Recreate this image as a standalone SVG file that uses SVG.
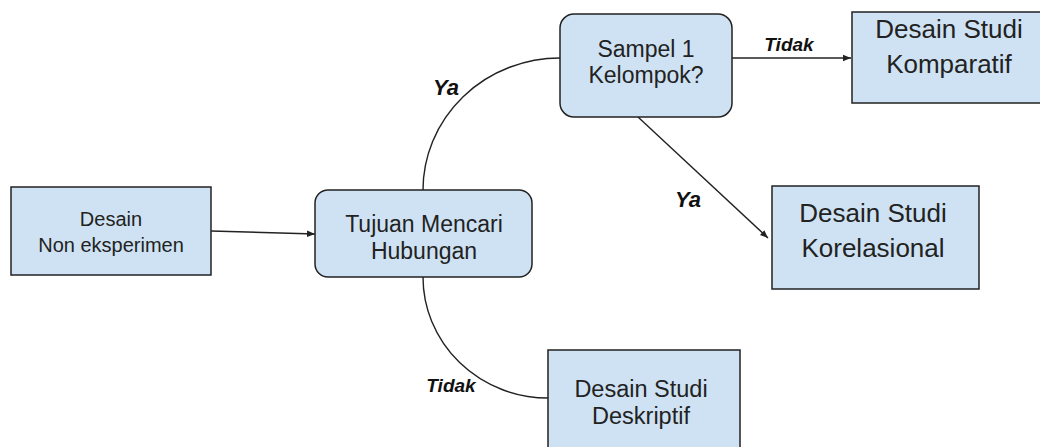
<svg xmlns="http://www.w3.org/2000/svg" width="1040" height="447" viewBox="0 0 1040 447">
<style>
.box{fill:#cfe2f3;stroke:#222;stroke-width:1.5}
.t{font-family:"Liberation Sans",Arial,sans-serif;fill:#222;text-anchor:middle}
.lbl{font-family:"Liberation Sans",Arial,sans-serif;fill:#111;font-weight:bold;font-style:italic;text-anchor:middle}
.c{fill:none;stroke:#222;stroke-width:1.4}
</style>
<defs>
<marker id="ah" viewBox="0 0 10 10" refX="10" refY="5" markerWidth="8" markerHeight="8" markerUnits="userSpaceOnUse" orient="auto">
<path d="M0,1 L10,5 L0,9 Z" fill="#222"/>
</marker>
</defs>
<rect width="1040" height="447" fill="#fff"/>
<g id="connectors">
<line class="c" x1="211" y1="231" x2="315" y2="234" marker-end="url(#ah)"/>
<path class="c" d="M423,190 A137,132 0 0 1 560,58"/>
<path class="c" d="M423,277 A125,121 0 0 0 548,398"/>
<line class="c" x1="732" y1="58" x2="851" y2="58" marker-end="url(#ah)"/>
<line class="c" x1="638" y1="117" x2="768" y2="238" marker-end="url(#ah)"/>
<text class="lbl" x="446" y="95" font-size="22">Ya</text>
<text class="lbl" x="789" y="51" font-size="19">Tidak</text>
<text class="lbl" x="688" y="207" font-size="22">Ya</text>
<text class="lbl" x="451" y="392" font-size="19">Tidak</text>
</g>
<g id="n1">
<rect class="box" x="11" y="187" width="200" height="88"/>
<text class="t" x="111" y="226" font-size="20">Desain</text>
<text class="t" x="111" y="252" font-size="20">Non eksperimen</text>
</g>
<g id="n2">
<rect class="box" x="315" y="190" width="217" height="87" rx="13"/>
<text class="t" x="424" y="232" font-size="23">Tujuan Mencari</text>
<text class="t" x="424" y="259" font-size="23">Hubungan</text>
</g>
<g id="n3">
<rect class="box" x="560" y="14" width="172" height="103" rx="14"/>
<text class="t" x="646" y="57" font-size="23">Sampel 1</text>
<text class="t" x="646" y="83" font-size="23">Kelompok?</text>
</g>
<g id="n4">
<rect class="box" x="852" y="12" width="194" height="91"/>
<text class="t" x="949" y="38" font-size="26">Desain Studi</text>
<text class="t" x="949" y="73" font-size="26">Komparatif</text>
</g>
<g id="n5">
<rect class="box" x="772" y="186" width="207" height="103"/>
<text class="t" x="873" y="222" font-size="26">Desain Studi</text>
<text class="t" x="873" y="257" font-size="26">Korelasional</text>
</g>
<g id="n6">
<rect class="box" x="548" y="350" width="192" height="102"/>
<text class="t" x="641" y="397" font-size="23.5">Desain Studi</text>
<text class="t" x="641" y="424" font-size="23.5">Deskriptif</text>
</g>
</svg>
